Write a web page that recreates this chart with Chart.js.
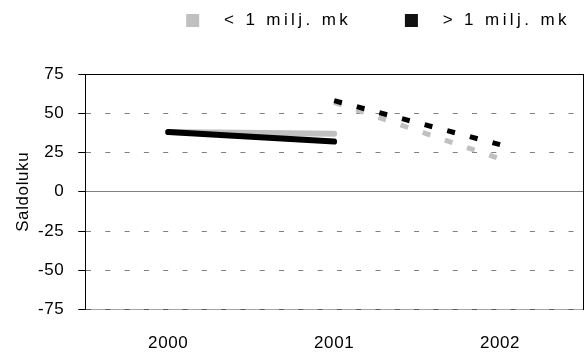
<!DOCTYPE html>
<html>
<head>
<meta charset="utf-8">
<script src="https://cdn.jsdelivr.net/npm/chart.js@4/dist/chart.umd.min.js"></script>
<style>
  html, body { margin: 0; padding: 0; background: #fff; }
  #c { display: block; }
</style>
</head>
<body>
<canvas id="c" width="587" height="361"></canvas>
<script>
// categories and series
const years = ['2000', '2001', '2002'];
const smallActual = [38, 37, null];
const largeActual = [38, 32, null];
const smallForecast = [null, 57, 21];
const largeForecast = [null, 58, 30];
const yTicks = [-75, -50, -25, 0, 25, 50, 75];
const seriesNames = ['< 1 milj. mk', '> 1 milj. mk'];

const GREY = '#c0c0c0';
const BLACK = '#000000';
const GRID_DASH = [5, 14.3];
const CLEAR = 'rgba(0,0,0,0)';

Chart.defaults.font.family = "'Liberation Sans', Arial, sans-serif";
Chart.defaults.color = '#000';

// spaced-out lettering like the original, plus extra room under the legend
const spacing = {
  id: 'spacing',
  afterInit(chart) {
    const lg = chart.legend;
    const fit = lg.fit.bind(lg);
    const draw = lg.draw.bind(lg);
    lg.fit = function () {
      chart.ctx.save();
      chart.ctx.letterSpacing = '3.4px';
      fit();
      chart.ctx.restore();
      lg.height += 35;
    };
    lg.draw = function (area) {
      chart.ctx.save();
      chart.ctx.letterSpacing = '3.4px';
      draw(area);
      chart.ctx.restore();
    };
  },
  beforeLayout(chart) { chart.ctx.letterSpacing = '0.6px'; },
  beforeDraw(chart) { chart.ctx.letterSpacing = '0.6px'; }
};

const solid = (label, data, color, order) => ({
  label, data, order,
  borderColor: color, backgroundColor: color,
  borderWidth: 6, borderCapStyle: 'round', borderJoinStyle: 'round',
  pointRadius: 0, tension: 0, fill: false
});
const dotted = (label, data, color, order) => ({
  label, data, order,
  borderColor: color, backgroundColor: color,
  borderWidth: 5, borderCapStyle: 'butt', borderDash: [8, 15.4],
  pointRadius: 0, tension: 0, fill: false
});

new Chart(document.getElementById('c'), {
  type: 'line',
  data: {
    labels: years,
    datasets: [
      solid(seriesNames[0], smallActual, GREY, 2),
      solid(seriesNames[1], largeActual, BLACK, 1),
      dotted(seriesNames[0], smallForecast, GREY, 2),
      dotted(seriesNames[1], largeForecast, BLACK, 1)
    ]
  },
  options: {
    responsive: false,
    animation: false,
    layout: { padding: { left: 7, right: 4, top: 7, bottom: 3 } },
    plugins: {
      tooltip: { enabled: false },
      legend: {
        position: 'top',
        align: 'end',
        labels: {
          boxWidth: 13,
          boxHeight: 13,
          padding: 5,
          color: '#000',
          font: { size: 17 },
          generateLabels: (chart) => [0, 1].map(i => {
            const ds = chart.data.datasets[i];
            return {
              text: '  ' + ds.label + (i === 0 ? '      ' : ' '),
              fillStyle: i === 0 ? GREY : '#111',
              strokeStyle: i === 0 ? GREY : '#111',
              lineWidth: 0,
              hidden: false,
              datasetIndex: i
            };
          })
        }
      }
    },
    scales: {
      x: {
        type: 'category',
        offset: true,
        grid: { display: true, color: CLEAR, drawOnChartArea: false, tickColor: CLEAR, tickLength: 20, z: -3 },
        border: { color: '#a6a6a6', z: -2 },
        ticks: { padding: 4, font: { size: 17 }, color: '#000' }
      },
      y: {
        min: -75,
        max: 75,
        afterBuildTicks: (scale) => { scale.ticks = yTicks.map(v => ({ value: v })); },
        grid: {
          color: (ctx) => {
            if (!ctx.tick) return '#808080';
            if (ctx.tick.value === 75) return '#000';
            if (ctx.tick.value === -75) return '#5a5a5a';
            return '#808080';
          },
          tickColor: '#000',
          tickLength: 7,
          tickBorderDash: []
        },
        border: {
          color: '#000',
          dash: (ctx) => {
            if (!ctx.tick) return [];
            const v = ctx.tick.value;
            return (v === 0 || v === 75) ? [] : GRID_DASH;
          }
        },
        ticks: { padding: 14, font: { size: 17 }, color: '#000' },
        title: {
          display: true,
          text: 'Saldoluku',
          color: '#000',
          font: { size: 17 },
          padding: { top: 6, bottom: -9.5 }
        }
      },
      y2: {
        type: 'linear',
        position: 'right',
        grid: { drawOnChartArea: false, drawTicks: false },
        ticks: { display: false },
        border: { color: '#000' }
      }
    }
  },
  plugins: [spacing]
});
</script>
</body>
</html>
